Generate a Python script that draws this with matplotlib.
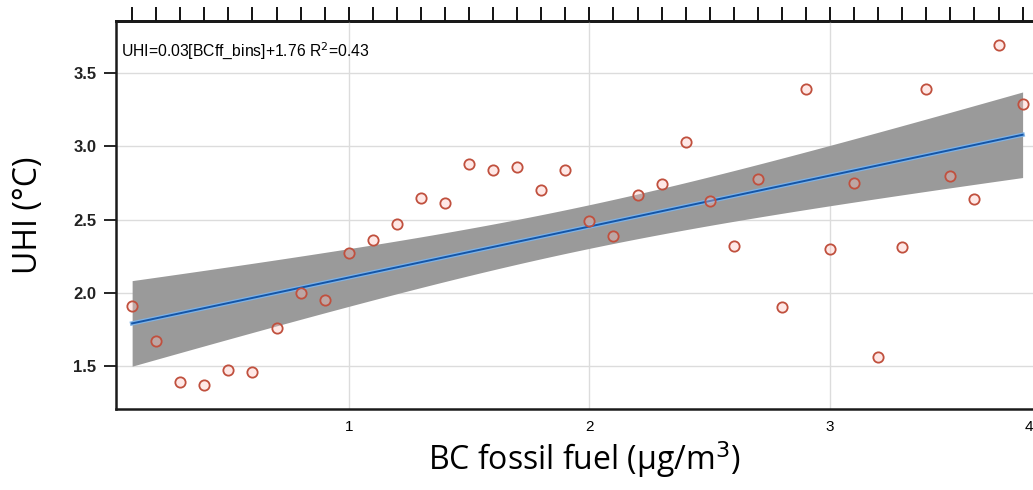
import numpy as np
import matplotlib.pyplot as plt
from matplotlib import font_manager

# BC fossil fuel bins (ug/m3) and mean UHI per bin
bc_bins = [0.1, 0.2, 0.3, 0.4, 0.5, 0.6, 0.7, 0.8, 0.9, 1.0,
           1.1, 1.2, 1.3, 1.4, 1.5, 1.6, 1.7, 1.8, 1.9, 2.0,
           2.1, 2.2, 2.3, 2.4, 2.5, 2.6, 2.7, 2.8, 2.9, 3.0,
           3.1, 3.2, 3.3, 3.4, 3.5, 3.6, 3.7, 3.8]
uhi = [1.91, 1.67, 1.39, 1.37, 1.47, 1.46, 1.76, 2.00, 1.95, 2.27,
       2.36, 2.47, 2.65, 2.61, 2.88, 2.84, 2.86, 2.70, 2.84, 2.49,
       2.39, 2.67, 2.74, 3.03, 2.63, 2.32, 2.78, 1.90, 3.39, 2.30,
       2.75, 1.56, 2.31, 3.39, 2.80, 2.64, 3.69, 3.29]
x_ticks = [1, 2, 3]
y_ticks = [1.5, 2.0, 2.5, 3.0, 3.5]
fit_label = r"UHI=0.03[BCff_bins]+1.76 R$^2$=0.43"

x = np.array(bc_bins)
y = np.array(uhi)

# linear fit + 95% confidence band
slope, intercept = np.polyfit(x, y, 1)
n = len(x)
resid = y - (slope * x + intercept)
s = np.sqrt(np.sum(resid**2) / (n - 2))
t_val = 2.028
xs = np.linspace(x.min(), x.max(), 200)
ys = slope * xs + intercept
half = t_val * s * np.sqrt(1 / n + (xs - x.mean())**2 / np.sum((x - x.mean())**2))

names = {f.name for f in font_manager.fontManager.ttflist}
narrow = 'Liberation Sans Narrow' if 'Liberation Sans Narrow' in names else 'Liberation Sans'

fig = plt.figure(figsize=(10.33, 4.9), dpi=100)
ax = fig.add_axes([0.1123, 0.1653, 0.9, 0.7918])

ax.grid(True, color='#dcdcdc', linewidth=1)
ax.set_axisbelow(True)
ax.fill_between(xs, ys - half, ys + half, color='#9a9a9a', linewidth=0, zorder=2)
ax.plot(xs, ys, color='#7fb2e5', linewidth=3.2, zorder=3)
ax.plot(xs, ys, color='#1456a8', linewidth=1.4, zorder=4)
ax.scatter(x, y, s=55, facecolors=(1.0, 0.75, 0.72, 0.35), edgecolors='#c0503e',
           linewidths=1.3, zorder=5)

ax.set_xlim(0.033, 3.896)
ax.set_ylim(1.207, 3.855)
ax.set_xticks(x_ticks)
ax.set_xticklabels([str(v) for v in x_ticks], fontsize=11, family='Liberation Sans')
ax.set_yticks(y_ticks)
ax.set_yticklabels([f"{v:.1f}" for v in y_ticks], fontsize=12, fontweight='bold',
                   family='Liberation Sans', color='#222222')
ax.tick_params(axis='x', length=0, pad=8)
ax.tick_params(axis='y', direction='out', length=9, width=1.2, pad=5)

top = ax.secondary_xaxis('top')
top.set_xticks(bc_bins)
top.set_xticklabels([])
top.tick_params(direction='out', length=10, width=1.3)
top.spines['top'].set_linewidth(2)

for side in ['left', 'bottom', 'top']:
    ax.spines[side].set_linewidth(1.8)
    ax.spines[side].set_color('#1a1a1a')
ax.spines['right'].set_visible(False)

ax.text(0.005, 0.95, fit_label, transform=ax.transAxes, fontsize=11.3,
        family=narrow, ha='left', va='top')

ax.set_xlabel("BC fossil fuel (μg/m$^3$)", fontsize=23, family='Open Sans')
ax.xaxis.set_label_coords(584 / 1033, 1 - 439 / 490, transform=fig.transFigure)
ax.set_ylabel("UHI (°C)", fontsize=23, family='Open Sans')
ax.yaxis.set_label_coords(45 / 1033, 1 - 215 / 490, transform=fig.transFigure)
fig.text(1.0, 1 - 427 / 490, "4", fontsize=11, family='Liberation Sans', ha='right', va='center')

fig.savefig("out.png", dpi=100)
